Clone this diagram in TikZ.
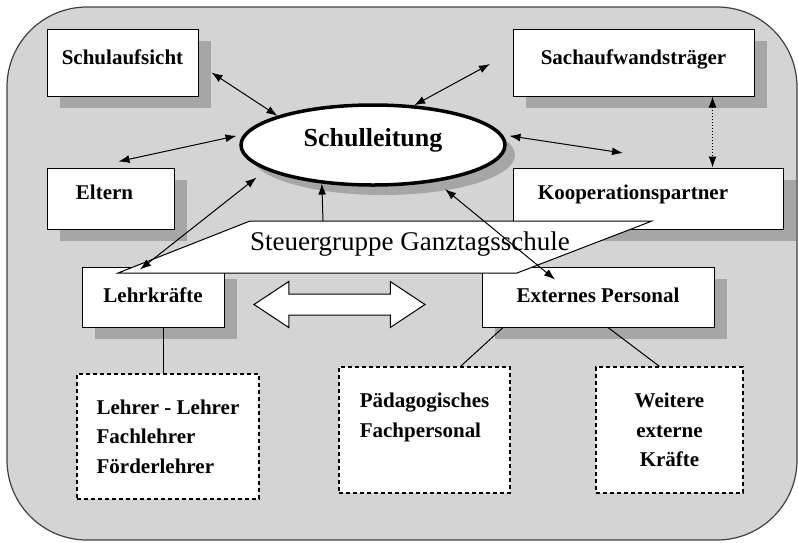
\documentclass[tikz,border=0pt]{standalone}
\usepackage{fontspec}
\setmainfont{Liberation Serif}
\usetikzlibrary{shapes,arrows.meta,positioning,shadows}
\definecolor{bggray}{RGB}{212,212,212}
\definecolor{shgray}{RGB}{166,166,166}

\begin{document}
\begin{tikzpicture}[x=1pt,y=-1pt,node distance=71pt,>={Latex[length=11pt,width=8pt]},
shad/.style={drop shadow={shadow xshift=13pt,shadow yshift=-12pt,fill=shgray,opacity=1}},
box/.style={draw,fill=white,line width=1pt,inner xsep=4pt,inner ysep=0pt,shad,font=\fontsize{21}{25}\selectfont\bfseries},
tall/.style={text height=35pt,text depth=32pt},
flat/.style={text height=31pt,text depth=30pt},
low/.style={text height=35pt,text depth=25pt},
dbox/.style={draw,fill=white,line width=1.2pt,dash pattern=on 4pt off 3pt,font=\fontsize{21}{29.5}\selectfont\bfseries},
link/.style={line width=1pt}]
\useasboundingbox(0,0)rectangle(798,542);
\draw[fill=bggray,draw=black!75,line width=1.2pt,rounded corners=80pt](7,7)rectangle(797,540);
% boxes round the school management
\node[box,tall,minimum width=151pt](sa)at(122.5,62.5){Schulaufsicht};
\node[box,flat,minimum width=127pt](el)[below=of sa.south west,anchor=north west]{Eltern\hspace*{12pt}};
\node[box,tall,minimum width=241pt](sat)at(633.5,62.5){Sachaufwandsträger};
\node[box,flat,minimum width=270pt](ko)[below=of sat.south west,anchor=north west]{Kooperationspartner\hspace*{30pt}};
\node[box,low,minimum width=142pt](lk)at(153,297){Lehrkräfte};
\node[box,low,minimum width=232pt](ep)at(598,297){Externes Personal};
\node[ellipse,draw,fill=white,line width=3.5pt,minimum width=264pt,minimum height=80pt,text height=9pt,text depth=7pt,
drop shadow={shadow xshift=10pt,shadow yshift=-10pt,fill=shgray,opacity=1},font=\fontsize{26}{30}\selectfont\bfseries](sl)at(373,145){Schulleitung};
% steering group
\draw[fill=white,line width=1pt](118,273)--(250,221)--(652,221)--(517,273)--cycle;
\node[font=\fontsize{27}{32}\selectfont,anchor=base](sg)at(410,250){Steuergruppe Ganztagsschule};
\node[double arrow,draw,fill=white,line width=1pt,minimum height=171pt,inner sep=10pt,double arrow head extend=12.5pt,double arrow tip angle=67](da)at(339.5,304.5){};
% staff groups
\node[dbox,align=left,minimum width=182pt,minimum height=125pt](lt)at(168,436.5){Lehrer - Lehrer\\Fachlehrer\\Förderlehrer};
\node[dbox,align=left,minimum width=171pt,minimum height=126pt](pf)at(424.5,430){Pädagogisches\\Fachpersonal\\~};
\node[dbox,align=center,minimum width=147pt,minimum height=126pt](wk)at(669.5,430){Weitere\\externe\\Kräfte};
\coordinate(st)at(323,221);
\coordinate(ne)at(490,64);
\coordinate(ea)at(623,153);
\draw[<->,link]([xshift=13pt,yshift=-10pt]sa.east)--(sl.163);
\draw[<->,link]([xshift=-6pt]sl.176)--([shift={(8pt,6pt)}]el.north);
\draw[<->,link](sl.44)--(ne);
\draw[<->,link]([xshift=6pt]sl.4)--(ea);
\draw[->,link](st)--(sl.-143.5);
\draw[<->,link]([yshift=-12pt]sl.-170)--([shift={(-13pt,-3pt)}]lk.north);
\draw[<->,link]([yshift=-9pt]sl.-26)--([shift={(-43pt,-13pt)}]ep.north);
\draw[<->,link,dotted]([xshift=79pt]sat.south)--([xshift=79pt]sat.south|-ko.north);
\draw[link]([xshift=10pt]lk.south)--([xshift=10pt]lk.south|-lt.north);
\draw[link]([xshift=-95pt]ep.south)--([xshift=36pt]pf.north);
\draw[link]([xshift=10pt]ep.south)--([xshift=-10pt]wk.north);
\end{tikzpicture}
\end{document}
